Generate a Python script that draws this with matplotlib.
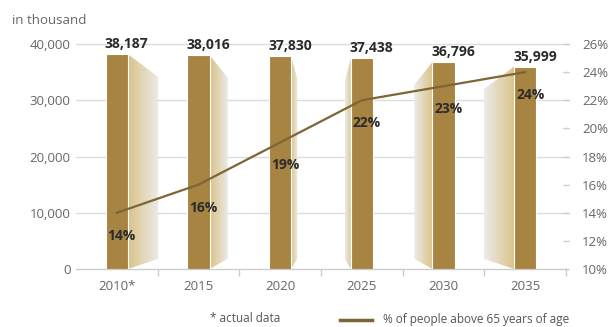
import matplotlib.pyplot as plt
import numpy as np
from matplotlib.colors import LinearSegmentedColormap
from matplotlib.lines import Line2D
from matplotlib.patches import Polygon

plt.rcParams["font.family"] = ["Open Sans", "DejaVu Sans"]

years = ["2010*", "2015", "2020", "2025", "2030", "2035"]
population = [38187, 38016, 37830, 37438, 36796, 35999]
pct_over_65 = [14, 16, 19, 22, 23, 24]

BAR_COLOR = "#a78441"
LINE_COLOR = "#7d6535"
GRID_COLOR = "#dcdcdc"
TICK_COLOR = "#666666"
LABEL_COLOR = "#2b2b2b"

side_cmap = LinearSegmentedColormap.from_list("side", ["#d9c38a", "#ecebe8"])

W, H = 611, 327
fig = plt.figure(figsize=(W / 100, H / 100), dpi=100)
ax = fig.add_axes([76 / W, 58 / H, (566 - 76) / W, (269 - 44) / H])

n = len(years)
centers = np.arange(n) + 0.5
half_w = 0.135

ax.set_xlim(0, n)
ax.set_ylim(0, 40000)

# horizontal grid
for g in [10000, 20000, 30000, 40000]:
    ax.plot([0, n + 0.04], [g, g], color=GRID_COLOR, lw=1.0, zorder=0, clip_on=False)

# perspective side panels, turning from right to left across the chart
for i, (c, v) in enumerate(zip(centers, population)):
    d = 0.37 - i * 0.148
    inner = c + half_w if d > 0 else c - half_w
    outer = inner + d
    poly = Polygon([(inner, 0), (inner, v), (outer, v - 4000), (outer, 1800)],
                   closed=True, facecolor="none", edgecolor="none")
    ax.add_patch(poly)
    grad = np.linspace(0, 1, 64).reshape(1, -1)
    if d < 0:
        grad = grad[:, ::-1]
    im = ax.imshow(grad, cmap=side_cmap, aspect="auto", interpolation="bicubic",
                   extent=[min(inner, outer), max(inner, outer), 0, v], zorder=2)
    im.set_clip_path(poly)

ax.bar(centers, population, width=2 * half_w, color=BAR_COLOR,
       edgecolor="white", linewidth=0.8, zorder=3)

for c, v in zip(centers, population):
    ax.annotate(f"{v:,}", (c, v), xytext=(10, 10), textcoords="offset pixels",
                ha="center", va="center", fontsize=10, fontweight="bold",
                color=LABEL_COLOR, annotation_clip=False)

for s in ["top", "left", "right"]:
    ax.spines[s].set_visible(False)
ax.spines["bottom"].set_color("#cccccc")
ax.spines["bottom"].set_linewidth(1.0)

ax.set_yticks([0, 10000, 20000, 30000, 40000])
ax.set_yticklabels(["0", "10,000", "20,000", "30,000", "40,000"])
ax.tick_params(axis="y", length=0, pad=4, labelsize=9.5, labelcolor=TICK_COLOR)

ax.set_xticks(np.arange(1, n + 1))
ax.set_xticklabels([])
ax.tick_params(axis="x", which="major", length=5, width=1, color="#cccccc")
ax.set_xticks(centers, minor=True)
ax.set_xticklabels(years, minor=True)
ax.tick_params(axis="x", which="minor", length=0, pad=8, labelsize=9.5, labelcolor=TICK_COLOR)

fig.text(12 / W, 1 - 20 / H, "in thousand", fontsize=9.5, color=TICK_COLOR, va="center", ha="left")

# share of people above 65 on the right axis
ax2 = ax.twinx()
ax2.set_ylim(10, 26)
ax2.set_yticks(range(10, 27, 2))
ax2.set_yticklabels([f"{t}%" for t in range(10, 27, 2)])
ax2.tick_params(axis="y", length=5, width=1, direction="inout", color="#cccccc",
                pad=9, labelsize=9.5, labelcolor=TICK_COLOR)
for s in ax2.spines.values():
    s.set_visible(False)

ax2.plot(centers, pct_over_65, color=LINE_COLOR, lw=1.6, zorder=4)
for c, p in zip(centers, pct_over_65):
    ax2.annotate(f"{p}%", (c, p), xytext=(5, -23), textcoords="offset pixels",
                 ha="center", va="center", fontsize=10, fontweight="bold",
                 color=LABEL_COLOR, zorder=5)

# footnote and legend
fig.text(210 / W, 1 - 319 / H, "* actual data", fontsize=8.5, color="#555555", va="center", ha="left")
fig.add_artist(Line2D([340 / W, 372 / W], [1 - 320 / H, 1 - 320 / H], color=LINE_COLOR, lw=2.5))
fig.text(383 / W, 1 - 319 / H, "% of people above 65 years of age", fontsize=8.5,
         color="#555555", va="center", ha="left")

fig.savefig("out.png", dpi=100)
